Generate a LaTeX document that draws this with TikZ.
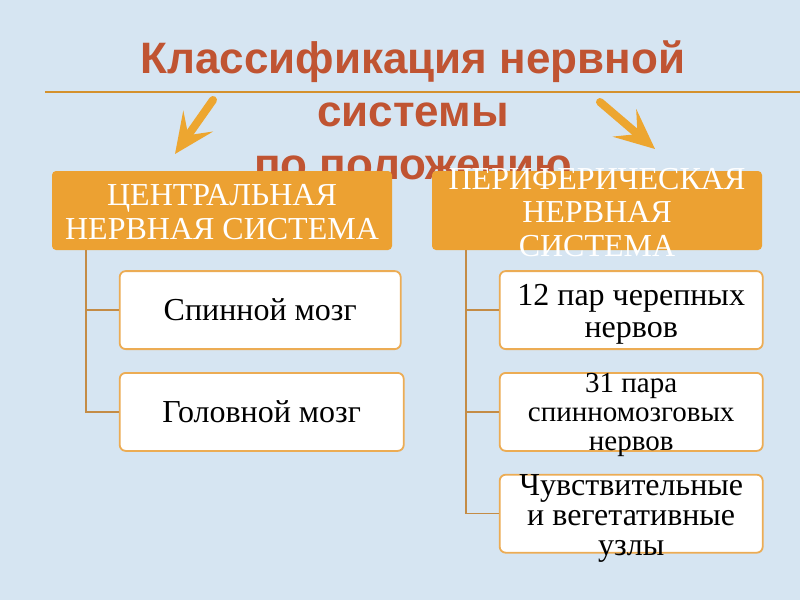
\documentclass[tikz,border=0pt]{standalone}
\usepackage{fontspec}
\setmainfont{Liberation Serif}
\newfontfamily\headfont{Liberation Sans}
\usetikzlibrary{arrows.meta,positioning}
\definecolor{sky}{RGB}{214,229,242}
\definecolor{amber}{RGB}{236,161,50}
\definecolor{rust}{RGB}{192,84,50}
\definecolor{stem}{RGB}{196,140,70}
\definecolor{rim}{RGB}{236,172,84}
\newcommand\boxlines[1]{\smash{\raisebox{-0.36em}{\begin{tabular}{@{}c@{}}#1\end{tabular}}}}
\tikzset{
  pointer/.style={-{Stealth[length=40pt,width=36pt,inset=17pt]},line width=8pt,line cap=round,draw=amber!95!yellow},
  rule/.style={draw=amber!90!black,line width=1.5pt},
  heading/.style={font=\headfont\bfseries\fontsize{44}{53}\selectfont,text=rust,align=center},
  group/.style={fill=amber,rounded corners=4pt,text=white,inner sep=0pt,
    minimum height=79pt,font=\fontsize{32}{33.5}\selectfont},
  item/.style={draw=rim,line width=1.8pt,fill=white,rounded corners=6pt,text=black,
    inner sep=0pt,minimum height=78pt,font=\fontsize{32}{31.5}\selectfont},
  branch/.style={draw=stem,line width=1.5pt},
}
\begin{document}
\begin{tikzpicture}[x=1pt,y=-1pt]
  \fill[sky] (0,0) rectangle (800,600);
  \useasboundingbox (0,0) rectangle (800,600);
  % title and arrows
  \node[heading] (title) at (413,110) {Классификация нервной\\системы\\по положению};
  \coordinate (ruleL) at (45,92);
  \coordinate (ruleR) at (800,92);
  \draw[rule] (ruleL) -- (ruleR);
  \coordinate (la1) at (213,100);
  \coordinate (la2) at (175,154);
  \coordinate (ra1) at (600,102);
  \coordinate (ra2) at (655,149);
  \draw[pointer] (la1) -- (la2);
  \draw[pointer] (ra1) -- (ra2);
  % two groups
  \node[group,minimum width=340pt] (cns) at (222,210.5) {\boxlines{ЦЕНТРАЛЬНАЯ\\НЕРВНАЯ СИСТЕМА}};
  \node[group,minimum width=330pt] (pns) at (597,210.5) {\boxlines{ПЕРИФЕРИЧЕСКАЯ\\НЕРВНАЯ\\СИСТЕМА}};
  % central parts
  \node[item,minimum width=281pt,below right=20pt and 67pt of cns.south west] (spinal) {Спинной мозг};
  \node[item,minimum width=284pt,below=22pt of spinal.south west,anchor=north west] (brain) {Головной мозг};
  % peripheral parts
  \node[item,minimum width=263pt,below right=20pt and 67pt of pns.south west] (cranial) {\boxlines{12 пар черепных\\нервов}};
  \node[item,minimum width=263pt,below=22pt of cranial.south west,anchor=north west,
    font=\fontsize{29}{29}\selectfont] (spnerves) {\boxlines{31 пара\\спинномозговых\\нервов}};
  \node[item,minimum width=263pt,below=22pt of spnerves.south west,anchor=north west,
    font=\fontsize{32}{30}\selectfont] (ganglia) {\boxlines{Чувствительные\\и вегетативные\\узлы}};
  % tree lines
  \coordinate (ltrunk) at ([xshift=-136pt]cns.south);
  \coordinate (rtrunk) at ([xshift=-131pt]pns.south);
  \draw[branch] (ltrunk) |- (spinal.west);
  \draw[branch] (ltrunk) |- (brain.west);
  \draw[branch] (rtrunk) |- (cranial.west);
  \draw[branch] (rtrunk) |- (spnerves.west);
  \draw[branch] (rtrunk) |- (ganglia.west);
\end{tikzpicture}
\end{document}
